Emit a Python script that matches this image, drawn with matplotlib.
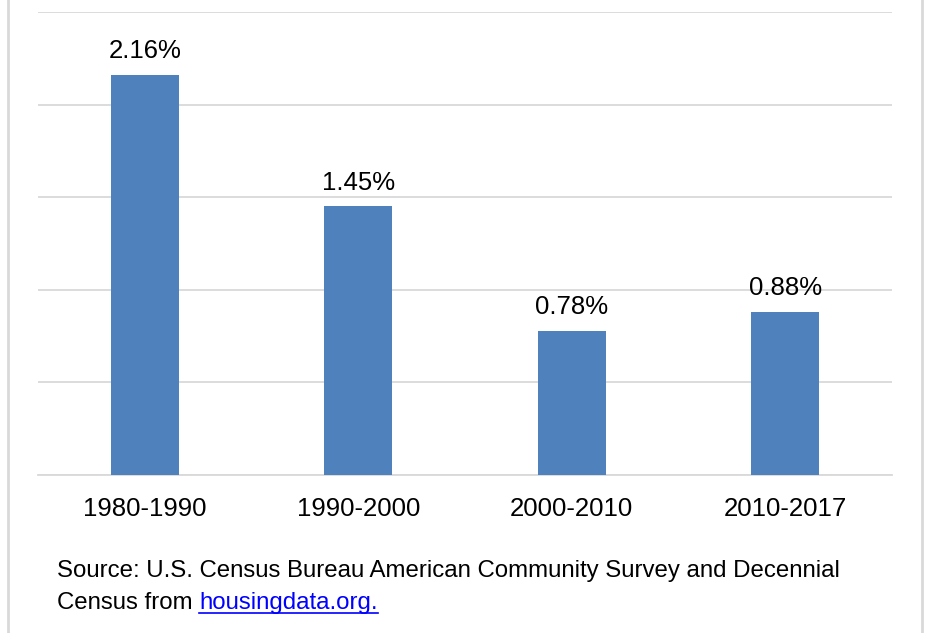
import matplotlib
matplotlib.use("Agg")
import matplotlib.pyplot as plt
from matplotlib.lines import Line2D

plt.rcParams["font.family"] = ["Liberation Sans", "DejaVu Sans"]

periods = ["1980-1990", "1990-2000", "2000-2010", "2010-2017"]
growth_pct = [2.16, 1.45, 0.78, 0.88]
source_line1 = "Source: U.S. Census Bureau American Community Survey and Decennial"
source_line2 = "Census from "
source_link = "housingdata.org."

W, H = 925, 633
fig = plt.figure(figsize=(W / 100, H / 100), dpi=100)

# plot area in pixel coords: x 38..892, y 12..475 (top-down)
ax = fig.add_axes([38 / W, 1 - 475 / H, (892 - 38) / W, (475 - 12) / H])
x = list(range(len(periods)))
ax.bar(x, growth_pct, width=0.32, color="#4f81bd", zorder=3)
ax.set_xlim(-0.5, len(periods) - 0.5)
ax.set_ylim(0, 2.5)
ax.set_yticks([0, 0.5, 1.0, 1.5, 2.0, 2.5])
ax.yaxis.grid(True, color="#d9d9d9", linewidth=1.3, zorder=0)
ax.tick_params(axis="y", left=False, labelleft=False)
ax.tick_params(axis="x", bottom=False, labelsize=18.5, pad=12)
ax.set_xticks(x)
ax.set_xticklabels(periods)
for side in ("top", "left", "right"):
    ax.spines[side].set_visible(False)
ax.spines["bottom"].set_color("#d9d9d9")
ax.spines["bottom"].set_linewidth(1.3)

for xi, v in zip(x, growth_pct):
    ax.annotate(f"{v:.2f}%", (xi, v), xytext=(0, 12), textcoords="offset points",
                ha="center", va="baseline", fontsize=18.5, color="#000000")

# outer frame lines at left and right
fig.add_artist(Line2D([7.5 / W, 7.5 / W], [0, 1], color="#d9d9d9", lw=2))
fig.add_artist(Line2D([921.5 / W, 921.5 / W], [0, 1], color="#d9d9d9", lw=2))

# source note with underlined link
fs = 17.3
fig.text(57 / W, 1 - 577 / H, source_line1, fontsize=fs, ha="left", va="baseline")
fig.canvas.draw()
renderer = fig.canvas.get_renderer()
pre = fig.text(57 / W, 1 - 609 / H, source_line2, fontsize=fs, ha="left", va="baseline")
bb = pre.get_window_extent(renderer)
link = fig.text(bb.x1 / W, 1 - 609 / H, source_link, fontsize=fs, ha="left",
                va="baseline", color="#0000ff")
lb = link.get_window_extent(renderer)
uy = 1 - 613 / H
fig.add_artist(Line2D([lb.x0 / W, lb.x1 / W], [uy, uy], color="#0000ff", lw=1.2))

fig.savefig("out.png", dpi=100)
